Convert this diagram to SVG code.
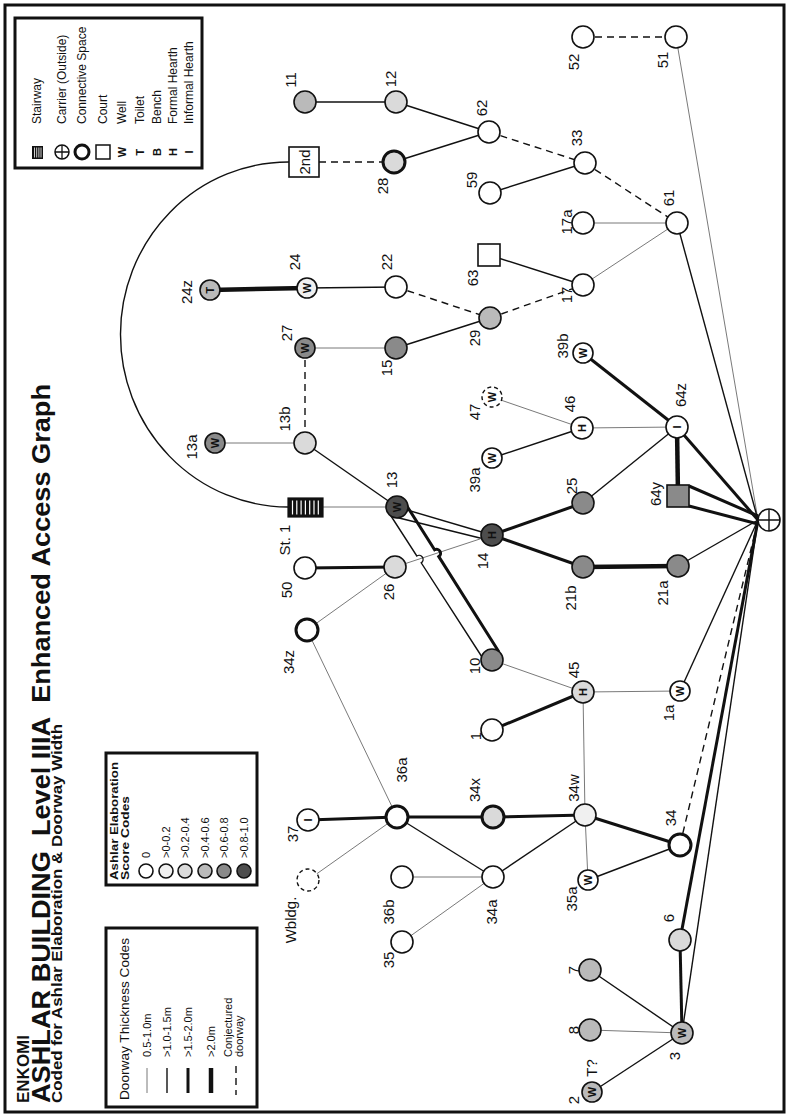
<svg xmlns="http://www.w3.org/2000/svg" width="789" height="1117" viewBox="0 0 789 1117">
<style>
.e0{stroke:#6a6a6a;stroke-width:0.9;fill:none}
.e1{stroke:#111;stroke-width:1.4;fill:none}
.e2{stroke:#111;stroke-width:3;fill:none}
.e3{stroke:#111;stroke-width:4.5;fill:none}
.ed{stroke:#111;stroke-width:1.4;stroke-dasharray:7 5;fill:none}
.n{stroke:#111;stroke-width:1.6}
.nt{stroke:#111;stroke-width:3}
.nd{stroke:#111;stroke-width:1.4;stroke-dasharray:4 3}
.f0{fill:#fff}.f1{fill:#f0f0f0}.f2{fill:#dadada}.f3{fill:#bababa}.f4{fill:#8a8a8a}.f5{fill:#4d4d4d}
.lbl{font-family:"Liberation Sans",Arial,sans-serif;font-size:15px;text-anchor:middle;dominant-baseline:central;fill:#111}
.sym{font-family:"Liberation Sans",Arial,sans-serif;font-size:11px;font-weight:bold;text-anchor:middle;dominant-baseline:central;fill:#111}
.lg{font-family:"Liberation Sans",Arial,sans-serif;font-size:12px;fill:#111}
.lgs{font-family:"Liberation Sans",Arial,sans-serif;font-size:11px;fill:#111}
.lgb{font-family:"Liberation Sans",Arial,sans-serif;font-size:11px;font-weight:bold;fill:#111}
.box{fill:none;stroke:#111;stroke-width:3}
.t1{font-family:"Liberation Sans",Arial,sans-serif;font-size:17px;font-weight:bold;fill:#111}
.t2{font-family:"Liberation Sans",Arial,sans-serif;font-size:25px;font-weight:bold;fill:#111}
.t3{font-family:"Liberation Sans",Arial,sans-serif;font-size:14px;font-weight:bold;fill:#111}
</style>
<rect x="0" y="0" width="789" height="1117" fill="#fff"/>
<rect x="5" y="5" width="779" height="1107" class="box"/>

<g id="title">
<text class="t1" x="29" y="1103" transform="rotate(-90 29 1103)">ENKOMI</text>
<text class="t2" x="50" y="1103" transform="rotate(-90 50 1103)" textLength="719" lengthAdjust="spacingAndGlyphs" xml:space="preserve">ASHLAR BUILDING  Level IIIA  Enhanced Access Graph</text>
<text class="t3" x="62" y="1103" transform="rotate(-90 62 1103)" textLength="379" lengthAdjust="spacingAndGlyphs">Coded for Ashlar Elaboration &amp; Doorway Width</text>
</g>

<g id="legend-symbols">
<rect x="15" y="18" width="187" height="150" class="box"/>
<rect x="32" y="146" width="11" height="13" fill="#111"/>
<path d="M34.5 147.5V157.5M36.7 147.5V157.5M38.9 147.5V157.5M41 147.5V157.5" stroke="#fff" stroke-width="0.8"/>
<circle cx="62" cy="152" r="7" fill="#fff" stroke="#111" stroke-width="1.5"/>
<path d="M55 152H69M62 145V159" stroke="#111" stroke-width="1.3"/>
<circle cx="82" cy="152" r="7" fill="#fff" stroke="#111" stroke-width="3"/>
<rect x="96" y="145" width="14" height="14" fill="#fff" stroke="#111" stroke-width="1.5"/>
<text class="sym" x="122" y="152" transform="rotate(-90 122 152)" font-size="13">W</text>
<text class="sym" x="140" y="152" transform="rotate(-90 140 152)" font-size="13">T</text>
<text class="sym" x="157" y="152" transform="rotate(-90 157 152)" font-size="13">B</text>
<text class="sym" x="173" y="152" transform="rotate(-90 173 152)" font-size="13">H</text>
<text class="sym" x="189" y="152" transform="rotate(-90 189 152)" font-size="13">I</text>
<text class="lg" x="41" y="124" transform="rotate(-90 41 124)">Stairway</text>
<text class="lg" x="66" y="124" transform="rotate(-90 66 124)">Carrier (Outside)</text>
<text class="lg" x="86" y="124" transform="rotate(-90 86 124)">Connective Space</text>
<text class="lg" x="107" y="124" transform="rotate(-90 107 124)">Court</text>
<text class="lg" x="126" y="124" transform="rotate(-90 126 124)">Well</text>
<text class="lg" x="144" y="124" transform="rotate(-90 144 124)">Toilet</text>
<text class="lg" x="161" y="124" transform="rotate(-90 161 124)">Bench</text>
<text class="lg" x="177" y="124" transform="rotate(-90 177 124)">Formal Hearth</text>
<text class="lg" x="193" y="124" transform="rotate(-90 193 124)">Informal Hearth</text>
</g>

<g id="legend-ashlar">
<rect x="106" y="753" width="151" height="132" class="box"/>
<text class="lgb" x="118" y="880" transform="rotate(-90 118 880)" textLength="118" lengthAdjust="spacingAndGlyphs">Ashlar Elaboration</text>
<text class="lgb" x="129" y="880" transform="rotate(-90 129 880)" textLength="84" lengthAdjust="spacingAndGlyphs">Score Codes</text>
<circle cx="146" cy="871" r="7" class="n f0"/>
<circle cx="166" cy="871" r="7" class="n f1"/>
<circle cx="185" cy="871" r="7" class="n f2"/>
<circle cx="205" cy="871" r="7" class="n f3"/>
<circle cx="224" cy="871" r="7" class="n f4"/>
<circle cx="244" cy="871" r="7" class="n f5"/>
<text class="lgs" x="150" y="858" transform="rotate(-90 150 858)">0</text>
<text class="lgs" x="170" y="858" transform="rotate(-90 170 858)">&gt;0-0.2</text>
<text class="lgs" x="189" y="858" transform="rotate(-90 189 858)">&gt;0.2-0.4</text>
<text class="lgs" x="209" y="858" transform="rotate(-90 209 858)">&gt;0.4-0.6</text>
<text class="lgs" x="228" y="858" transform="rotate(-90 228 858)">&gt;0.6-0.8</text>
<text class="lgs" x="248" y="858" transform="rotate(-90 248 858)">&gt;0.8-1.0</text>
</g>

<g id="legend-doorway">
<rect x="106" y="928" width="151" height="179" class="box"/>
<text class="lg" x="129" y="1100" transform="rotate(-90 129 1100)" textLength="162" lengthAdjust="spacingAndGlyphs">Doorway Thickness Codes</text>
<line x1="147" y1="1068" x2="147" y2="1093" class="e0"/>
<line x1="167" y1="1068" x2="167" y2="1093" class="e1"/>
<line x1="188" y1="1068" x2="188" y2="1093" class="e2"/>
<line x1="211" y1="1068" x2="211" y2="1093" class="e3"/>
<line x1="236" y1="1066" x2="236" y2="1095" class="ed" stroke-dasharray="4 4"/>
<text class="lgs" x="151" y="1057" transform="rotate(-90 151 1057)">0.5-1.0m</text>
<text class="lgs" x="171" y="1057" transform="rotate(-90 171 1057)">&gt;1.0-1.5m</text>
<text class="lgs" x="192" y="1057" transform="rotate(-90 192 1057)">&gt;1.5-2.0m</text>
<text class="lgs" x="215" y="1057" transform="rotate(-90 215 1057)">&gt;2.0m</text>
<text class="lgs" x="232" y="1057" transform="rotate(-90 232 1057)">Conjectured</text>
<text class="lgs" x="243" y="1057" transform="rotate(-90 243 1057)">doorway</text>
</g>

<g id="connectors">
<path class="e1" d="M289 162A168 172.5 0 0 0 288 507"/>
<line class="e1" x1="305" y1="102" x2="396" y2="102"/>
<line class="e1" x1="396" y1="102" x2="489" y2="132"/>
<line class="e1" x1="394" y1="162" x2="489" y2="132"/>
<line class="ed" x1="319" y1="162" x2="394" y2="162"/>
<line class="ed" x1="489" y1="132" x2="585" y2="163"/>
<line class="e1" x1="490" y1="193" x2="585" y2="163"/>
<line class="ed" x1="583" y1="37" x2="676" y2="37"/>
<line class="e0" x1="676" y1="37" x2="758" y2="520"/>
<line class="ed" x1="585" y1="163" x2="677" y2="223"/>
<line class="e0" x1="583" y1="223" x2="677" y2="223"/>
<line class="e0" x1="583" y1="285" x2="677" y2="223"/>
<line class="e1" x1="677" y1="223" x2="758" y2="520"/>
<line class="e1" x1="489" y1="255" x2="583" y2="285"/>
<line class="e1" x1="307" y1="288" x2="396" y2="287"/>
<line class="e3" x1="210" y1="290" x2="307" y2="288"/>
<line class="ed" x1="396" y1="287" x2="490" y2="318"/>
<line class="ed" x1="490" y1="318" x2="583" y2="285"/>
<line class="e1" x1="396" y1="348" x2="490" y2="318"/>
<line class="e0" x1="305" y1="348" x2="396" y2="348"/>
<line class="ed" x1="305" y1="348" x2="305" y2="443"/>
<line class="e0" x1="215" y1="443" x2="305" y2="443"/>
<line class="e1" x1="305" y1="443" x2="397" y2="507"/>
<line class="e0" x1="322" y1="507" x2="397" y2="507"/>
<line class="e1" x1="397" y1="507" x2="492" y2="535"/>
<line class="e1" x1="391" y1="516" x2="488" y2="540"/>
<line class="e0" x1="395" y1="567" x2="492" y2="535"/>
<path class="e2" d="M405 503L434.6 549.8A4 4 0 0 1 438.8 556.6L499 652"/>
<path class="e1" d="M391 516L416.8 556A4 4 0 0 1 421.2 562.8L482 657"/>
<line class="e2" x1="492" y1="535" x2="583" y2="503"/>
<line class="e2" x1="492" y1="535" x2="583" y2="567"/>
<line class="e1" x1="583" y1="503" x2="677" y2="427"/>
<line class="e0" x1="492" y1="397" x2="582" y2="428"/>
<line class="e1" x1="492" y1="458" x2="582" y2="428"/>
<line class="e0" x1="582" y1="428" x2="677" y2="427"/>
<line class="e2" x1="583" y1="353" x2="677" y2="427"/>
<line class="e3" x1="677" y1="427" x2="678" y2="496"/>
<line class="e2" x1="677" y1="427" x2="758" y2="520"/>
<line class="e2" x1="689" y1="486" x2="758" y2="516"/>
<line class="e2" x1="689" y1="506" x2="758" y2="524"/>
<line class="e3" x1="583" y1="567" x2="678" y2="566"/>
<line class="e1" x1="678" y1="566" x2="758" y2="520"/>
<line class="e1" x1="680" y1="691" x2="758" y2="520"/>
<line class="ed" x1="680" y1="845" x2="758" y2="520"/>
<line class="e2" x1="680" y1="940" x2="758" y2="520"/>
<line class="e1" x1="682" y1="1033" x2="758" y2="520"/>
<line class="e2" x1="305" y1="568" x2="395" y2="567"/>
<line class="e0" x1="307" y1="630" x2="395" y2="567"/>
<line class="e0" x1="307" y1="630" x2="397" y2="817"/>
<line class="e0" x1="492" y1="660" x2="583" y2="692"/>
<line class="e2" x1="492" y1="730" x2="583" y2="692"/>
<line class="e0" x1="583" y1="692" x2="680" y2="691"/>
<line class="e0" x1="583" y1="692" x2="585" y2="815"/>
<line class="e2" x1="308" y1="820" x2="397" y2="817"/>
<line class="e0" x1="308" y1="880" x2="397" y2="817"/>
<line class="e2" x1="397" y1="817" x2="493" y2="817"/>
<line class="e2" x1="493" y1="817" x2="585" y2="815"/>
<line class="e1" x1="397" y1="817" x2="493" y2="877"/>
<line class="e0" x1="402" y1="877" x2="493" y2="877"/>
<line class="e0" x1="402" y1="942" x2="493" y2="877"/>
<line class="e1" x1="493" y1="877" x2="585" y2="815"/>
<line class="e2" x1="585" y1="815" x2="680" y2="845"/>
<line class="e0" x1="585" y1="815" x2="588" y2="880"/>
<line class="e1" x1="588" y1="880" x2="680" y2="845"/>
<line class="e2" x1="680" y1="940" x2="682" y2="1033"/>
<line class="e1" x1="590" y1="970" x2="682" y2="1033"/>
<line class="e0" x1="590" y1="1030" x2="682" y2="1033"/>
<line class="e1" x1="592" y1="1092" x2="682" y2="1033"/>
</g>

<g id="n11"><circle cx="305" cy="102" r="11" class="n f3"/><text class="lbl" x="290" y="80" transform="rotate(-90 290 80)">11</text></g>
<g id="n12"><circle cx="396" cy="102" r="11" class="n f2"/><text class="lbl" x="390" y="79" transform="rotate(-90 390 79)">12</text></g>
<g id="n2nd"><rect x="289" y="147" width="30" height="30" class="n f0"/><text class="lbl" x="304" y="162" font-size="12" transform="rotate(-90 304 162)">2nd</text></g>
<g id="n28"><circle cx="394" cy="162" r="11" class="nt f2"/><text class="lbl" x="382" y="186" transform="rotate(-90 382 186)">28</text></g>
<g id="n62"><circle cx="489" cy="132" r="11" class="n f0"/><text class="lbl" x="481" y="108" transform="rotate(-90 481 108)">62</text></g>
<g id="n33"><circle cx="585" cy="163" r="11" class="n f0"/><text class="lbl" x="576" y="138" transform="rotate(-90 576 138)">33</text></g>
<g id="n59"><circle cx="490" cy="193" r="11" class="n f0"/><text class="lbl" x="471" y="180" transform="rotate(-90 471 180)">59</text></g>
<g id="n52"><circle cx="583" cy="37" r="11" class="n f0"/><text class="lbl" x="573" y="62" transform="rotate(-90 573 62)">52</text></g>
<g id="n51"><circle cx="676" cy="37" r="11" class="n f0"/><text class="lbl" x="662" y="60" transform="rotate(-90 662 60)">51</text></g>
<g id="n17a"><circle cx="583" cy="223" r="11" class="n f0"/><text class="lbl" x="566" y="222" transform="rotate(-90 566 222)">17a</text></g>
<g id="n61"><circle cx="677" cy="223" r="11" class="n f0"/><text class="lbl" x="668" y="198" transform="rotate(-90 668 198)">61</text></g>
<g id="n63"><rect x="478" y="244" width="22" height="22" class="n f0"/><text class="lbl" x="472" y="278" transform="rotate(-90 472 278)">63</text></g>
<g id="n17"><circle cx="583" cy="285" r="11" class="n f0"/><text class="lbl" x="566" y="295" transform="rotate(-90 566 295)">17</text></g>
<g id="n22"><circle cx="396" cy="287" r="11" class="n f0"/><text class="lbl" x="386" y="262" transform="rotate(-90 386 262)">22</text></g>
<g id="n24"><circle cx="307" cy="288" r="10" class="n f1"/><text class="sym" x="307" y="288" transform="rotate(-90 307 288)">W</text><text class="lbl" x="294" y="262" transform="rotate(-90 294 262)">24</text></g>
<g id="n24z"><circle cx="210" cy="290" r="10" class="n f3"/><text class="sym" x="210" y="290" transform="rotate(-90 210 290)">T</text><text class="lbl" x="186" y="292" transform="rotate(-90 186 292)">24z</text></g>
<g id="n29"><circle cx="490" cy="318" r="11" class="n f3"/><text class="lbl" x="474" y="338" transform="rotate(-90 474 338)">29</text></g>
<g id="n27"><circle cx="305" cy="348" r="10" class="n f4"/><text class="sym" x="305" y="348" transform="rotate(-90 305 348)">W</text><text class="lbl" x="286" y="333" transform="rotate(-90 286 333)">27</text></g>
<g id="n15"><circle cx="396" cy="348" r="11" class="n f4"/><text class="lbl" x="386" y="368" transform="rotate(-90 386 368)">15</text></g>
<g id="n39b"><circle cx="583" cy="353" r="10" class="n f0"/><text class="sym" x="583" y="353" transform="rotate(-90 583 353)">W</text><text class="lbl" x="562" y="346" transform="rotate(-90 562 346)">39b</text></g>
<g id="n13a"><circle cx="215" cy="443" r="10" class="n f4"/><text class="sym" x="215" y="443" transform="rotate(-90 215 443)">W</text><text class="lbl" x="191" y="447" transform="rotate(-90 191 447)">13a</text></g>
<g id="n13b"><circle cx="305" cy="443" r="11" class="n f2"/><text class="lbl" x="284" y="419" transform="rotate(-90 284 419)">13b</text></g>
<g id="n47"><circle cx="492" cy="397" r="10" class="nd f0"/><text class="sym" x="492" y="397" transform="rotate(-90 492 397)">W</text><text class="lbl" x="474" y="412" transform="rotate(-90 474 412)">47</text></g>
<g id="n46"><circle cx="582" cy="428" r="11" class="n f0"/><text class="sym" x="582" y="428" transform="rotate(-90 582 428)">H</text><text class="lbl" x="569" y="404" transform="rotate(-90 569 404)">46</text></g>
<g id="n64z"><circle cx="677" cy="427" r="11" class="n f0"/><text class="sym" x="677" y="427" transform="rotate(-90 677 427)">I</text><text class="lbl" x="680" y="395" transform="rotate(-90 680 395)">64z</text></g>
<g id="n39a"><circle cx="492" cy="458" r="10" class="n f0"/><text class="sym" x="492" y="458" transform="rotate(-90 492 458)">W</text><text class="lbl" x="474" y="480" transform="rotate(-90 474 480)">39a</text></g>
<g id="n13"><circle cx="397" cy="507" r="11" class="n f5"/><text class="sym" x="397" y="507" transform="rotate(-90 397 507)">W</text><text class="lbl" x="391" y="480" transform="rotate(-90 391 480)">13</text></g>
<g id="nSt1"><rect x="288" y="498" width="35" height="19" fill="#111" stroke="#111" stroke-width="1.2"/><path d="M292.5 500.5V514.5M296.8 500.5V514.5M301.1 500.5V514.5M305.4 500.5V514.5M309.7 500.5V514.5M314 500.5V514.5M318.3 500.5V514.5" stroke="#fff" stroke-width="1.2"/><text class="lbl" x="284" y="540" transform="rotate(-90 284 540)">St. 1</text></g>
<g id="n25"><circle cx="583" cy="503" r="11" class="n f4"/><text class="lbl" x="571" y="486" transform="rotate(-90 571 486)">25</text></g>
<g id="n64y"><rect x="667" y="485" width="22" height="22" class="n f4"/><text class="lbl" x="655" y="494" transform="rotate(-90 655 494)">64y</text></g>
<g id="n14"><circle cx="492" cy="535" r="11" class="n f5"/><text class="sym" x="492" y="535" transform="rotate(-90 492 535)">H</text><text class="lbl" x="482" y="561" transform="rotate(-90 482 561)">14</text></g>
<g id="carrier"><circle cx="769" cy="520" r="11" fill="#fff" stroke="#111" stroke-width="1.6"/><path d="M758 520H780M769 509V531" stroke="#111" stroke-width="1.4"/></g>
<g id="n21b"><circle cx="583" cy="567" r="11" class="n f4"/><text class="lbl" x="570" y="598" transform="rotate(-90 570 598)">21b</text></g>
<g id="n21a"><circle cx="678" cy="566" r="11" class="n f4"/><text class="lbl" x="662" y="593" transform="rotate(-90 662 593)">21a</text></g>
<g id="n50"><circle cx="305" cy="568" r="11" class="n f0"/><text class="lbl" x="286" y="590" transform="rotate(-90 286 590)">50</text></g>
<g id="n26"><circle cx="395" cy="567" r="11" class="n f2"/><text class="lbl" x="388" y="592" transform="rotate(-90 388 592)">26</text></g>
<g id="n34z"><circle cx="307" cy="630" r="11" class="nt f0"/><text class="lbl" x="288" y="662" transform="rotate(-90 288 662)">34z</text></g>
<g id="n10"><circle cx="492" cy="660" r="11" class="n f4"/><text class="lbl" x="474" y="666" transform="rotate(-90 474 666)">10</text></g>
<g id="n45"><circle cx="583" cy="692" r="11" class="n f2"/><text class="sym" x="583" y="692" transform="rotate(-90 583 692)">H</text><text class="lbl" x="573" y="670" transform="rotate(-90 573 670)">45</text></g>
<g id="n1"><circle cx="492" cy="730" r="11" class="n f0"/><text class="lbl" x="475" y="736" transform="rotate(-90 475 736)">1</text></g>
<g id="n1a"><circle cx="680" cy="691" r="10" class="n f0"/><text class="sym" x="680" y="691" transform="rotate(-90 680 691)">W</text><text class="lbl" x="668" y="713" transform="rotate(-90 668 713)">1a</text></g>
<g id="n37"><circle cx="308" cy="820" r="11" class="n f0"/><text class="sym" x="308" y="820" transform="rotate(-90 308 820)">I</text><text class="lbl" x="292" y="834" transform="rotate(-90 292 834)">37</text></g>
<g id="n36a"><circle cx="397" cy="817" r="11" class="nt f0"/><text class="lbl" x="401" y="770" transform="rotate(-90 401 770)">36a</text></g>
<g id="n34x"><circle cx="493" cy="817" r="11" class="nt f2"/><text class="lbl" x="474" y="790" transform="rotate(-90 474 790)">34x</text></g>
<g id="n34w"><circle cx="585" cy="815" r="11" class="n f1"/><text class="lbl" x="573" y="788" transform="rotate(-90 573 788)">34w</text></g>
<g id="nWbldg"><circle cx="308" cy="880" r="11" class="nd f0"/><text class="lbl" x="290" y="920" transform="rotate(-90 290 920)">Wbldg.</text></g>
<g id="n36b"><circle cx="402" cy="877" r="11" class="n f0"/><text class="lbl" x="388" y="912" transform="rotate(-90 388 912)">36b</text></g>
<g id="n34a"><circle cx="493" cy="877" r="11" class="n f0"/><text class="lbl" x="491" y="912" transform="rotate(-90 491 912)">34a</text></g>
<g id="n35a"><circle cx="588" cy="880" r="10" class="n f0"/><text class="sym" x="588" y="880" transform="rotate(-90 588 880)">W</text><text class="lbl" x="571" y="899" transform="rotate(-90 571 899)">35a</text></g>
<g id="n35"><circle cx="402" cy="942" r="11" class="n f0"/><text class="lbl" x="388" y="960" transform="rotate(-90 388 960)">35</text></g>
<g id="n34"><circle cx="680" cy="845" r="11" class="nt f0"/><text class="lbl" x="670" y="818" transform="rotate(-90 670 818)">34</text></g>
<g id="n6"><circle cx="680" cy="940" r="11" class="n f2"/><text class="lbl" x="668" y="918" transform="rotate(-90 668 918)">6</text></g>
<g id="n7"><circle cx="590" cy="970" r="11" class="n f3"/><text class="lbl" x="573" y="970" transform="rotate(-90 573 970)">7</text></g>
<g id="n8"><circle cx="590" cy="1030" r="11" class="n f3"/><text class="lbl" x="573" y="1030" transform="rotate(-90 573 1030)">8</text></g>
<g id="n3"><circle cx="682" cy="1033" r="11" class="n f3"/><text class="sym" x="682" y="1033" transform="rotate(-90 682 1033)">W</text><text class="lbl" x="674" y="1056" transform="rotate(-90 674 1056)">3</text></g>
<g id="n2"><circle cx="592" cy="1092" r="10" class="n f3"/><text class="sym" x="592" y="1092" transform="rotate(-90 592 1092)">W</text><text class="lbl" x="573" y="1100" transform="rotate(-90 573 1100)">2</text><text class="lbl" x="591" y="1068" transform="rotate(-90 591 1068)">T?</text></g>
</svg>
